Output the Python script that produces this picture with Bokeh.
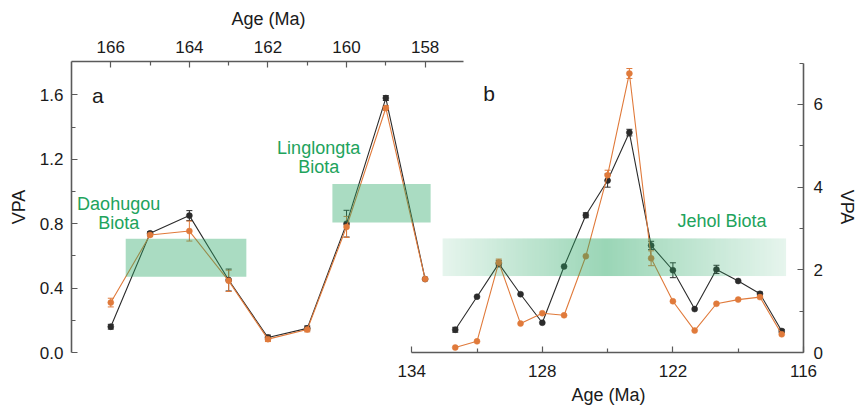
import numpy as np
from bokeh.plotting import figure
from bokeh.models import Range1d, LinearAxis, FixedTicker, Whisker, TeeHead, ColumnDataSource, Label, NumeralTickFormatter, Title
from bokeh.embed import file_html
from bokeh.resources import INLINE

# ---------------- data ----------------
# panel a (Middle-Late Jurassic)
age_a = [166, 165, 164, 163, 162, 161, 160, 159, 158]
vpa_a_black = [0.16, 0.74, 0.85, 0.45, 0.093, 0.15, 0.80, 1.58, 0.456]
vpa_a_orange = [0.31, 0.73, 0.754, 0.445, 0.083, 0.143, 0.78, 1.518, 0.456]
err_a_black = [0.015, 0.01, 0.031, 0.068, 0.015, 0.015, 0.083, 0.015, 0.0]
err_a_orange = [0.027, 0.01, 0.062, 0.066, 0.015, 0.015, 0.065, 0.015, 0.0]

# panel b (Early Cretaceous)
age_b = [132, 131, 130, 129, 128, 127, 126, 125, 124, 123, 122, 121, 120, 119, 118, 117]
vpa_b_black = [0.55, 1.35, 2.15, 1.41, 0.72, 2.08, 3.32, 4.16, 5.32, 2.59, 1.99, 1.05, 2.01, 1.73, 1.42, 0.52]
vpa_b_orange = [0.12, 0.27, 2.18, 0.70, 0.95, 0.90, 2.33, 4.29, 6.75, 2.28, 1.24, 0.53, 1.18, 1.28, 1.34, 0.44]
err_b_black = [0.06, 0, 0.08, 0, 0, 0, 0.06, 0.16, 0.08, 0.10, 0.18, 0, 0.10, 0, 0.04, 0.04]
err_b_orange = [0, 0, 0.08, 0, 0, 0, 0, 0.12, 0.12, 0.18, 0, 0, 0, 0, 0, 0]

# biota ranges (age from, age to, VPA low, VPA high)
daohugou_box = [165.62, 162.55, 0.47, 0.706]
linglongta_box = [160.36, 157.86, 0.807, 1.046]
jehol_box = [132.58, 116.8, 1.85, 2.76]

ticks_top = [166, 164, 162, 160, 158]
minor_top = [165, 163, 161, 159]
ticks_left = [0.0, 0.4, 0.8, 1.2, 1.6]
minor_left = [0.2, 0.6, 1.0, 1.4]
ticks_bottom = [134, 128, 122, 116]
minor_bottom = [131, 125, 119]
ticks_right = [0, 2, 4, 6]
minor_right = [1, 3, 5, 7]

BLACK = "#2b2b2b"
ORANGE = "#e07a3b"
GREEN_TXT = "#21a35c"
GREEN = "#2ba866"
AXIS = "#5a5a5a"
TXT = "#1a1a1a"
FONT = "Liberation Sans"

p = figure(width=859, height=407, output_backend="svg", toolbar_location=None,
           x_range=Range1d(167, 148.37), y_range=Range1d(0, 1.807),
           x_axis_location="above",
           min_border_left=71, min_border_right=54, min_border_top=61, min_border_bottom=55)
p.extra_x_ranges = {"xb": Range1d(149.63, 116)}
p.extra_y_ranges = {"yb": Range1d(0, 7.04)}
p.outline_line_color = None
p.xgrid.visible = False
p.ygrid.visible = False
p.background_fill_color = "white"
p.border_fill_color = "white"

bottom_ax = LinearAxis(x_range_name="xb")
right_ax = LinearAxis(y_range_name="yb")
p.add_layout(bottom_ax, "below")
p.add_layout(right_ax, "right")

top_ax = p.xaxis[0]
left_ax = p.yaxis[0]
top_ax.ticker = FixedTicker(ticks=ticks_top, minor_ticks=minor_top)
top_ax.bounds = (157.02, 167)
left_ax.ticker = FixedTicker(ticks=ticks_left, minor_ticks=minor_left)
left_ax.formatter = NumeralTickFormatter(format="0.0")
bottom_ax.ticker = FixedTicker(ticks=ticks_bottom, minor_ticks=minor_bottom)
bottom_ax.bounds = (116, 134)
right_ax.ticker = FixedTicker(ticks=ticks_right, minor_ticks=minor_right)
right_ax.bounds = (0, 7)

for ax, st in [(top_ax, 9), (left_ax, 8), (bottom_ax, 12), (right_ax, 10)]:
    ax.axis_line_color = AXIS
    ax.axis_line_width = 1.6
    ax.major_tick_line_color = AXIS
    ax.minor_tick_line_color = AXIS
    ax.major_tick_line_width = 1.2
    ax.minor_tick_line_width = 1.2
    ax.major_tick_in = 6
    ax.major_tick_out = 0
    ax.minor_tick_in = 4
    ax.minor_tick_out = 0
    ax.major_label_text_font = FONT
    ax.major_label_text_font_size = "17px"
    ax.major_label_text_color = TXT
    ax.major_label_standoff = st
    ax.axis_label_text_font = FONT
    ax.axis_label_text_font_size = "18px"
    ax.axis_label_text_font_style = "normal"
    ax.axis_label_text_color = TXT

left_ax.axis_label = "VPA"
left_ax.axis_label_standoff = 8
right_ax.axis_label = "VPA"
right_ax.axis_label_standoff = 11

# "Age (Ma)" titles, centred on each panel's own age axis
top_title = Title(text="Age (Ma)", align="left", offset=160, text_font=FONT, text_font_size="18px",
                  text_font_style="normal", text_color=TXT, standoff=14, vertical_align="top")
bottom_title = Title(text="Age (Ma)", align="left", offset=500, text_font=FONT, text_font_size="18px",
                     text_font_style="normal", text_color=TXT, standoff=6, vertical_align="bottom")
p.add_layout(top_title, "above")
p.add_layout(bottom_title, "below")


def series(ages, vals, errs, color, xr, yr):
    kw = {}
    if xr != "default":
        kw["x_range_name"] = xr
    if yr != "default":
        kw["y_range_name"] = yr
    p.line(ages, vals, line_color=color, line_width=1.1, **kw)
    idx = [i for i, e in enumerate(errs) if e > 0]
    src = ColumnDataSource(dict(x=[ages[i] for i in idx],
                                upper=[vals[i] + errs[i] for i in idx],
                                lower=[vals[i] - errs[i] for i in idx]))
    w = Whisker(source=src, base="x", upper="upper", lower="lower", dimension="height",
                line_color=color, line_width=1,
                upper_head=TeeHead(size=6, line_color=color, line_width=1),
                lower_head=TeeHead(size=6, line_color=color, line_width=1),
                x_range_name=xr, y_range_name=yr)
    p.add_layout(w)
    p.scatter(ages, vals, size=6, fill_color=color, line_color=color, line_width=0.5, **kw)


series(age_a, vpa_a_black, err_a_black, BLACK, "default", "default")
series(age_b, vpa_b_black, err_b_black, BLACK, "xb", "yb")
series(age_a, vpa_a_orange, err_a_orange, ORANGE, "default", "default")
series(age_b, vpa_b_orange, err_b_orange, ORANGE, "xb", "yb")

# biota boxes (semi-transparent, drawn over the curves)
for b in (daohugou_box, linglongta_box):
    p.quad(left=b[0], right=b[1], bottom=b[2], top=b[3], fill_color=GREEN, fill_alpha=0.4, line_color=None)

# Jehol box with horizontal gradient (lighter at both ends)
n = 200
t = np.linspace(0.0, 1.0, n)
peak = (jehol_box[0] - 124.3) / (jehol_box[0] - jehol_box[1])
alpha = np.where(t < peak, 0.12 + 0.36 * t / peak, 0.12 + 0.36 * (1 - t) / (1 - peak))
img = np.zeros((1, n), dtype=np.uint32)
view = img.view(dtype=np.uint8).reshape((1, n, 4))
view[0, :, 0] = 0x2b
view[0, :, 1] = 0xa8
view[0, :, 2] = 0x66
view[0, :, 3] = (alpha * 255).astype(np.uint8)
p.image_rgba(image=[img], x=jehol_box[1], y=jehol_box[2],
             dw=jehol_box[0] - jehol_box[1], dh=jehol_box[3] - jehol_box[2],
             x_range_name="xb", y_range_name="yb")

# texts
def label(x, y, text, xr, yr, color=GREEN_TXT, size="18px"):
    p.add_layout(Label(x=x, y=y, text=text, x_range_name=xr, y_range_name=yr,
                       text_font=FONT, text_font_size=size, text_color=color,
                       text_align="center", text_baseline="middle"))

label(165.8, 0.925, "Daohugou", "default", "default")
label(165.8, 0.807, "Biota", "default", "default")
label(160.71, 1.267, "Linglongta", "default", "default")
label(160.71, 1.149, "Biota", "default", "default")
label(119.74, 3.175, "Jehol Biota", "xb", "yb")
label(166.33, 1.597, "a", "default", "default", color=TXT, size="21px")
label(130.44, 6.26, "b", "xb", "yb", color=TXT, size="21px")

open("out.html", "w").write(file_html(p, INLINE))
